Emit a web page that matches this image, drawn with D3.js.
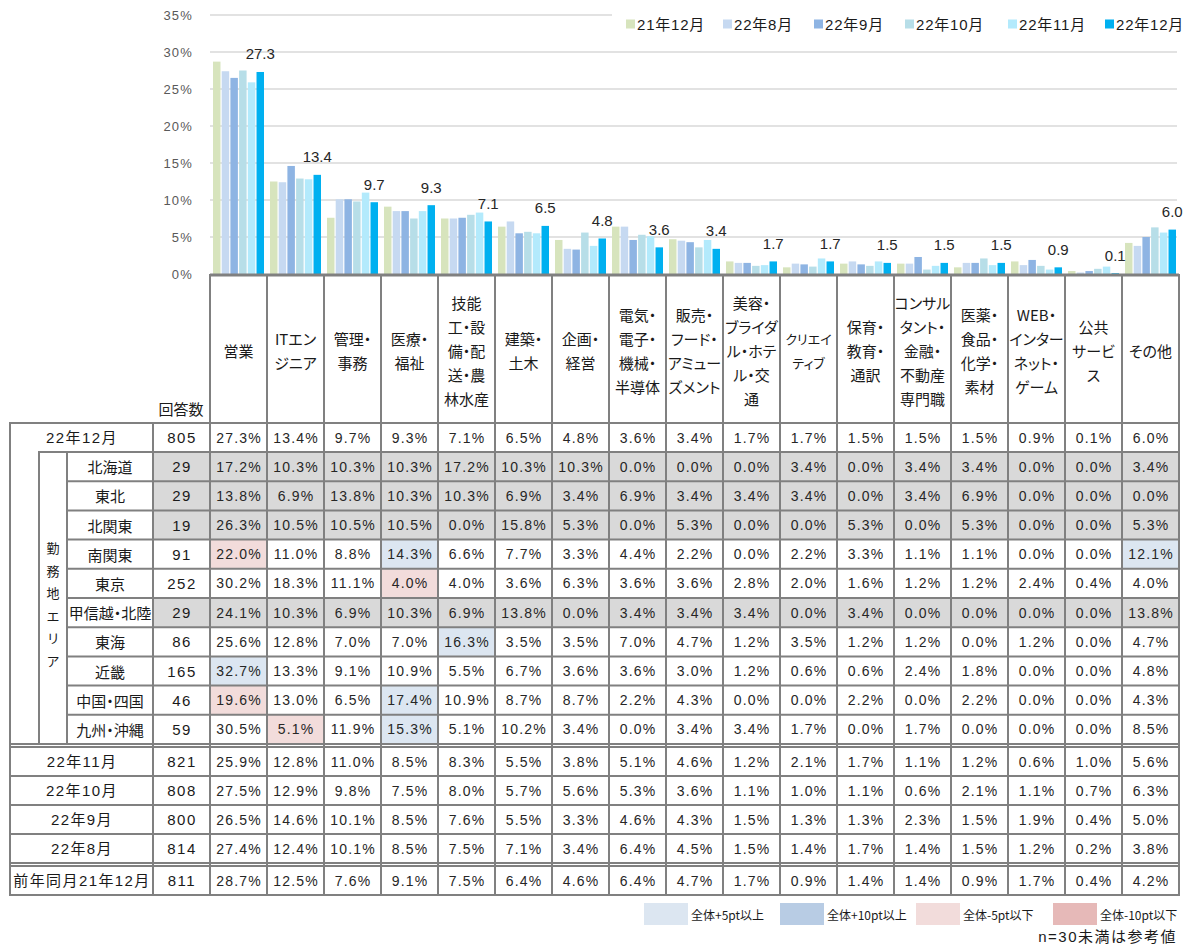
<!DOCTYPE html>
<html><head><meta charset="utf-8">
<script src="https://cdn.jsdelivr.net/npm/d3@7"></script>
<style>
body{margin:0;background:#fff}
svg{display:block}
text{font-family:"Liberation Sans","Noto Sans CJK JP",sans-serif;fill:#1a1a1a}
.jp{font-family:"Noto Sans CJK JP",sans-serif;font-feature-settings:"palt"}
</style></head><body>
<svg id="c" width="1195" height="944"></svg>
<script>
// ---------- DATA ----------
const categories = ["営業","ITエンジニア","管理・事務","医療・福祉","技能工・設備・配送・農林水産","建築・土木","企画・経営","電気・電子・機械・半導体","販売・フード・アミューズメント","美容・ブライダル・ホテル・交通","クリエイティブ","保育・教育・通訳","コンサルタント・金融・不動産専門職","医薬・食品・化学・素材","WEB・インターネット・ゲーム","公共サービス","その他"];
const categoryLines = [["営業"],["ITエン","ジニア"],["管理・","事務"],["医療・","福祉"],["技能","工・設","備・配","送・農","林水産"],["建築・","土木"],["企画・","経営"],["電気・","電子・","機械・","半導体"],["販売・","フード・","アミュー","ズメント"],["美容・","ブライダ","ル・ホテ","ル・交","通"],["クリエイ","ティブ"],["保育・","教育・","通訳"],["コンサル","タント・","金融・","不動産","専門職"],["医薬・","食品・","化学・","素材"],["WEB・","インター","ネット・","ゲーム"],["公共","サービ","ス"],["その他"]];
const seriesNames = ["21年12月","22年8月","22年9月","22年10月","22年11月","22年12月"];
const v2112 = [28.7,12.5,7.6,9.1,7.5,6.4,4.6,6.4,4.7,1.7,0.9,1.4,1.4,0.9,1.7,0.4,4.2];
const v2208 = [27.4,12.4,10.1,8.5,7.5,7.1,3.4,6.4,4.5,1.5,1.4,1.7,1.4,1.5,1.2,0.2,3.8];
const v2209 = [26.5,14.6,10.1,8.5,7.6,5.5,3.3,4.6,4.3,1.5,1.3,1.3,2.3,1.5,1.9,0.4,5.0];
const v2210 = [27.5,12.9,9.8,7.5,8.0,5.7,5.6,5.3,3.6,1.1,1.0,1.1,0.6,2.1,1.1,0.7,6.3];
const v2211 = [25.9,12.8,11.0,8.5,8.3,5.5,3.8,5.1,4.6,1.2,2.1,1.7,1.1,1.2,0.6,1.0,5.6];
const v2212 = [27.3,13.4,9.7,9.3,7.1,6.5,4.8,3.6,3.4,1.7,1.7,1.5,1.5,1.5,0.9,0.1,6.0];
const seriesValues = [v2112,v2208,v2209,v2210,v2211,v2212];
const monthRowLabels = ["22年11月","22年10月","22年9月","22年8月"];
const monthRowCounts = [821,808,800,814];
const monthRowValues = [v2211,v2210,v2209,v2208];
const totalLabel = "22年12月", totalCount = 805;
const prevLabel = "前年同月21年12月", prevCount = 811;
const regionNames = ["北海道","東北","北関東","南関東","東京","甲信越・北陸","東海","近畿","中国・四国","九州・沖縄"];
const regionCounts = [29,29,19,91,252,29,86,165,46,59];
const regionValues = [
 [17.2,10.3,10.3,10.3,17.2,10.3,10.3,0.0,0.0,0.0,3.4,0.0,3.4,3.4,0.0,0.0,3.4],
 [13.8,6.9,13.8,10.3,10.3,6.9,3.4,6.9,3.4,3.4,3.4,0.0,3.4,6.9,0.0,0.0,0.0],
 [26.3,10.5,10.5,10.5,0.0,15.8,5.3,0.0,5.3,0.0,0.0,5.3,0.0,5.3,0.0,0.0,5.3],
 [22.0,11.0,8.8,14.3,6.6,7.7,3.3,4.4,2.2,0.0,2.2,3.3,1.1,1.1,0.0,0.0,12.1],
 [30.2,18.3,11.1,4.0,4.0,3.6,6.3,3.6,3.6,2.8,2.0,1.6,1.2,1.2,2.4,0.4,4.0],
 [24.1,10.3,6.9,10.3,6.9,13.8,0.0,3.4,3.4,3.4,0.0,3.4,0.0,0.0,0.0,0.0,13.8],
 [25.6,12.8,7.0,7.0,16.3,3.5,3.5,7.0,4.7,1.2,3.5,1.2,1.2,0.0,1.2,0.0,4.7],
 [32.7,13.3,9.1,10.9,5.5,6.7,3.6,3.6,3.0,1.2,0.6,0.6,2.4,1.8,0.0,0.0,4.8],
 [19.6,13.0,6.5,17.4,10.9,8.7,8.7,2.2,4.3,0.0,0.0,2.2,0.0,2.2,0.0,0.0,4.3],
 [30.5,5.1,11.9,15.3,5.1,10.2,3.4,0.0,3.4,3.4,1.7,0.0,1.7,0.0,0.0,0.0,8.5]
];
const yTicks = [0,5,10,15,20,25,30,35];
const areaLabel = "勤務地エリア";
const legendLabels = ["全体+5pt以上","全体+10pt以上","全体-5pt以下","全体-10pt以下"];
const noteText = "n=30未満は参考値";

// ---------- STYLE ----------
const seriesColors = ["#d7e4bd","#c6d9f1","#8eb4e3","#b7dee8","#b3eafc","#00b0f0"];
const hlColors = ["#dce6f1","#b8cce4","#f2dcdb","#e6b9b8"];
const grayFill = "#d9d9d9";
const lineColor = "#808080";

const svg = d3.select("#c");
const x = d3.scaleBand().domain(d3.range(categories.length)).range([210,1179]);
const xs = d3.scaleBand().domain(seriesNames).range([3,54]).paddingInner(0.14);
const y = d3.scaleLinear().domain([0,35]).range([274,15]);

// gridlines
svg.append("g").selectAll("line").data(yTicks.filter(d=>d>0)).join("line")
  .attr("x1",210).attr("x2",1177).attr("y1",d=>y(d)).attr("y2",d=>y(d))
  .attr("stroke","#d9d9d9").attr("stroke-width",1.5);

// y axis labels
const ax = svg.append("g").attr("transform","translate(196,0)")
  .call(d3.axisLeft(y).tickValues(yTicks).tickFormat(d=>d+"%").tickSize(0).tickPadding(3));
ax.select(".domain").remove();
ax.selectAll("text").style("font-family","Liberation Sans").style("font-size","13px")
  .style("fill","#595959").style("letter-spacing","1.2px");

// bars
const bars = svg.append("g");
seriesNames.forEach((s,si)=>{
  bars.append("g").selectAll("rect").data(seriesValues[si]).join("rect")
    .attr("x",(d,i)=>x(i)+xs(s)).attr("width",xs.bandwidth())
    .attr("y",d=>y(d)).attr("height",d=>y(0)-y(d))
    .attr("fill",seriesColors[si]);
});
// labels on latest series
svg.append("g").selectAll("text").data(v2212).join("text")
  .attr("x",(d,i)=>x(i)+xs(seriesNames[5])+xs.bandwidth()/2)
  .attr("y",d=>y(d)-12.5).attr("text-anchor","middle")
  .style("font-size","15px").style("fill","#262626").text(d=>d.toFixed(1));

// legend
const lg = svg.append("g");
lg.append("rect").attr("x",612).attr("y",8).attr("width",583).attr("height",30).attr("fill","#fff");
const legX = [626,723,814,905,1008,1105];
seriesNames.forEach((s,i)=>{
  lg.append("rect").attr("x",legX[i]).attr("y",19.5).attr("width",9).attr("height",9).attr("fill",seriesColors[i]);
  lg.append("text").attr("x",legX[i]+11).attr("y",24).attr("dominant-baseline","central")
    .style("font-size","15px").style("letter-spacing","0.8px").text(s);
});

// axis line
svg.append("line").attr("x1",210).attr("x2",1179).attr("y1",275).attr("y2",275)
  .attr("stroke",lineColor).attr("stroke-width",3);

// ---------- TABLE ----------
const T = svg.append("g");
const hTop=275, hBot=423;
// header text
categoryLines.forEach((lines,i)=>{
  const cx = x(i)+x.bandwidth()/2, lh=24, cy=350;
  lines.forEach((ln,k)=>{
    T.append("text").attr("class","jp").attr("x",cx).attr("y",cy+(k-(lines.length-1)/2)*lh)
      .attr("text-anchor","middle").attr("dominant-baseline","central")
      .style("font-size",i===10?"13px":"15px").text(ln);
  });
});
T.append("text").attr("class","jp").attr("x",181).attr("y",408).attr("text-anchor","middle")
  .attr("dominant-baseline","central").style("font-size","15px").text("回答数");

// rows
const rows = [];
rows.push({label:totalLabel,n:totalCount,vals:v2212,top:423,h:29,type:"total"});
regionNames.forEach((r,i)=>rows.push({label:r,n:regionCounts[i],vals:regionValues[i],top:452+i*29.2,h:29.2,type:"region"}));
monthRowLabels.forEach((m,i)=>rows.push({label:m,n:monthRowCounts[i],vals:monthRowValues[i],top:747+i*29,h:29,type:"month"}));
rows.push({label:prevLabel,n:prevCount,vals:v2112,top:866,h:29,type:"month"});

function hl(v,base){
  const d = Math.round((v-base)*10)/10;
  if(d>=10) return hlColors[1];
  if(d>=5) return hlColors[0];
  if(d<=-10) return hlColors[3];
  if(d<=-5) return hlColors[2];
  return null;
}
const fills = T.append("g"), texts = T.append("g"), lines = T.append("g");
rows.forEach(r=>{
  const small = r.n<30;
  if(small){
    fills.append("rect").attr("x",153).attr("y",r.top).attr("width",1179-153).attr("height",r.h).attr("fill",grayFill);
  } else if(r.type==="region"){
    r.vals.forEach((v,i)=>{
      const c = hl(v,v2212[i]);
      if(c) fills.append("rect").attr("x",x(i)).attr("y",r.top).attr("width",x.bandwidth()).attr("height",r.h).attr("fill",c);
    });
  }
  const cy = r.top+r.h/2;
  if(r.type==="region"){
    texts.append("text").attr("class","jp").attr("x",110).attr("y",cy).attr("text-anchor","middle")
      .attr("dominant-baseline","central").style("font-size","15px").text(r.label);
  } else {
    texts.append("text").attr("x",82).attr("y",cy).attr("text-anchor","middle")
      .attr("dominant-baseline","central").style("font-size","15px").style("letter-spacing","1.4px").text(r.label);
  }
  texts.append("text").attr("x",182).attr("y",cy).attr("text-anchor","middle")
    .attr("dominant-baseline","central").style("font-size","15px").style("letter-spacing","1.5px").text(r.n);
  texts.selectAll(null).data(r.vals).join("text")
    .attr("x",(d,i)=>x(i)+x.bandwidth()/2+0.6).attr("y",cy).attr("text-anchor","middle")
    .attr("dominant-baseline","central").style("font-size","14px").style("letter-spacing","1.2px")
    .style("fill","#262626").text(d=>d.toFixed(1)+"%");
});
// vertical area label
const areaChars = Array.from(areaLabel);
areaChars.forEach((ch,k)=>{
  texts.append("text").attr("class","jp").attr("x",53).attr("y",604+(k-(areaChars.length-1)/2)*22.5)
    .attr("text-anchor","middle").attr("dominant-baseline","central").style("font-size","13px").text(ch);
});

// grid lines of table
function L(x1,y1,x2,y2){lines.append("line").attr("x1",x1).attr("y1",y1).attr("x2",x2).attr("y2",y2)
  .attr("stroke",lineColor).attr("stroke-width",2).attr("stroke-linecap","square");}
const colEdges = d3.range(categories.length).map(i=>x(i)).concat([1179]);
colEdges.forEach(cx=>L(cx,hTop,cx,895));
L(153,423,153,895); L(10,423,10,895);
L(39,452,39,744); L(67,452,67,744);
L(10,423,1179,423);
L(39,452,1179,452);
for(let i=1;i<10;i++) L(67,452+i*29.2,1179,452+i*29.2);
L(10,744,1179,744); L(10,747,1179,747);
[776,805,834].forEach(yy=>L(10,yy,1179,yy));
L(10,863,1179,863); L(10,866,1179,866); L(10,895,1179,895);

// bottom legend
const bx=[644,780,916,1053];
legendLabels.forEach((t,i)=>{
  T.append("rect").attr("x",bx[i]).attr("y",903).attr("width",44).attr("height",22).attr("fill",hlColors[i]);
  T.append("text").attr("class","jp").attr("x",bx[i]+47).attr("y",914).attr("dominant-baseline","central")
    .style("font-size","12px").text(t);
});
T.append("text").attr("x",1177).attr("y",942).attr("text-anchor","end")
  .style("font-size","15px").style("letter-spacing","1.5px").text(noteText);
</script></body></html>
